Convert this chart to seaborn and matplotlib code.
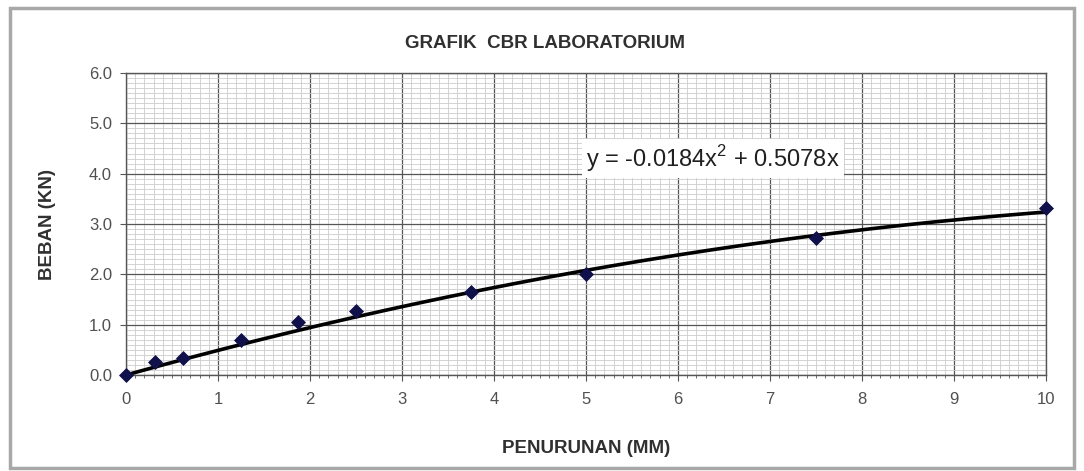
import numpy as np
import pandas as pd
import matplotlib
matplotlib.use("Agg")
import matplotlib.pyplot as plt
import seaborn as sns
from matplotlib.ticker import MultipleLocator, FormatStrFormatter
from matplotlib.patches import Rectangle

# data
penurunan = [0.0, 0.31, 0.62, 1.25, 1.87, 2.5, 3.75, 5.0, 7.5, 10.0]
beban = [0.0, 0.26, 0.33, 0.70, 1.05, 1.27, 1.64, 2.0, 2.72, 3.32]
trend_coef = [-0.0184, 0.5078, 0.0]  # quadratic trendline
title = "GRAFIK  CBR LABORATORIUM"
xlabel = "PENURUNAN (MM)"
ylabel = "BEBAN (KN)"
equation = "y = -0.0184x$^{2}$ + 0.5078x"

sns.set_theme(style="white")
plt.rcParams['font.family'] = ['Liberation Sans', 'DejaVu Sans']
plt.rcParams['mathtext.fontset'] = 'custom'
plt.rcParams['mathtext.rm'] = 'Liberation Sans'

fig = plt.figure(figsize=(10.84, 4.71), dpi=100)
ax = fig.add_axes([126/1084, 1-375/471, (1046-126)/1084, (375-73)/471])

# outer chart frame
fig.patches.append(Rectangle((10/1084, 3/471), 1064/1084, 460/471, transform=fig.transFigure,
                             fill=False, edgecolor="#a8a8a8", linewidth=2.5))

df = pd.DataFrame({"x": penurunan, "y": beban})
xs = np.linspace(0, 10, 200)
fit = pd.DataFrame({"x": xs, "y": np.polyval(trend_coef, xs)})
sns.lineplot(data=fit, x="x", y="y", ax=ax, color="black", linewidth=2.6, zorder=4)
sns.scatterplot(data=df, x="x", y="y", ax=ax, marker="D", s=50, color="#10104a",
                edgecolor="#10104a", zorder=5, clip_on=False)

ax.set_xlim(0, 10)
ax.set_ylim(0, 6)
ax.xaxis.set_major_locator(MultipleLocator(1))
ax.yaxis.set_major_locator(MultipleLocator(1))
ax.xaxis.set_minor_locator(MultipleLocator(0.1))
ax.yaxis.set_minor_locator(MultipleLocator(0.1))
ax.yaxis.set_major_formatter(FormatStrFormatter("%.1f"))
ax.grid(which="major", color="#555555", linewidth=0.9)
ax.grid(which="minor", color="#cccccc", linewidth=0.6)
ax.set_axisbelow(True)
for s in ax.spines.values():
    s.set_color("#555555")
    s.set_linewidth(1.0)
ax.tick_params(axis="both", which="major", length=4, width=0.8, color="#555555",
               labelsize=12, labelcolor="#505050", direction="out", bottom=True, left=True)
ax.tick_params(axis="x", which="major", pad=8)
ax.tick_params(axis="y", which="major", pad=6)
ax.tick_params(axis="x", which="minor", length=2, width=0.6, color="#555555", bottom=True)

ax.set_xlabel(xlabel, fontsize=13.5, fontweight="bold", color="#303030", labelpad=24)
ax.set_ylabel(ylabel, fontsize=13.5, fontweight="bold", color="#303030", labelpad=24)
fig.text(545/1084, 1-43/471, title, ha="center", va="center", fontsize=13.5,
         fontweight="bold", color="#303030")

ax.text(5.0, 4.3, equation, fontsize=17, color="#202020", va="center", ha="left",
        bbox=dict(facecolor="white", edgecolor="none", pad=3), zorder=6)

fig.savefig("out.png", dpi=100, facecolor="white")
